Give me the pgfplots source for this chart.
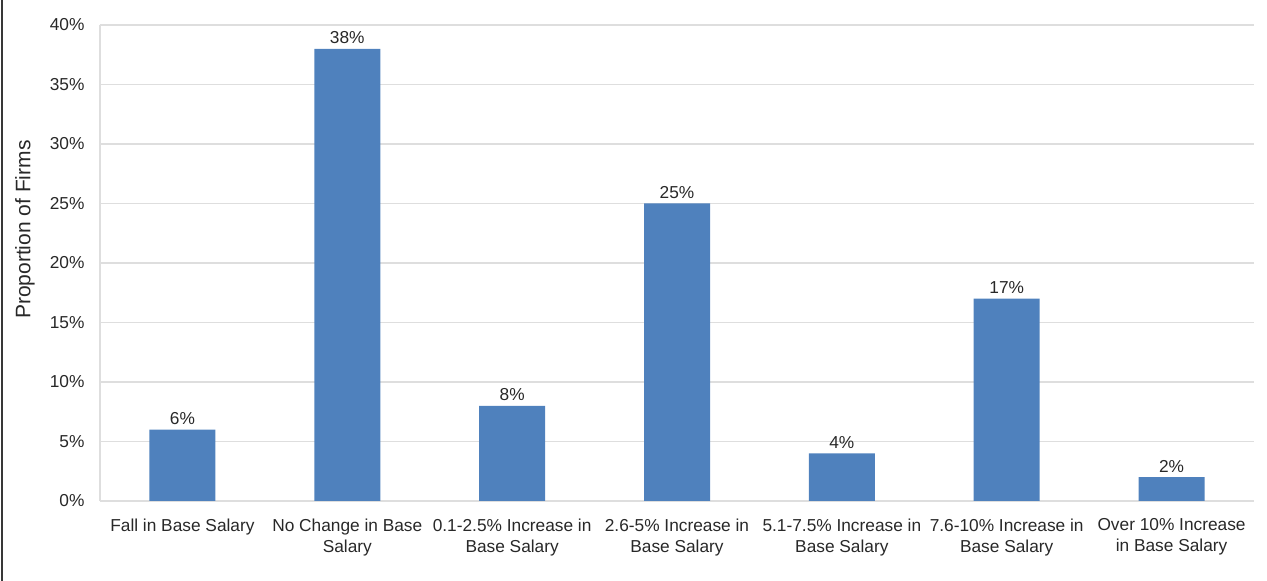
\documentclass[border=0pt]{standalone}
\usepackage{pgfplots}
\pgfplotsset{compat=1.18}
\usepackage{fontspec}
\setmainfont{Liberation Sans}

\definecolor{barblue}{RGB}{79,129,189}
\definecolor{gridgrey}{RGB}{222,222,222}
\definecolor{txt}{RGB}{40,40,40}

\begin{document}
\begin{tikzpicture}[x=1pt,y=1pt]
  \path[use as bounding box] (0,0) rectangle (1267,581);
  \draw[line width=2pt, color=black!78] (1.5,0) -- (1.5,581);
  \begin{axis}[
    at={(100pt,80pt)}, anchor=south west,
    scale only axis,
    width=1154pt, height=476pt,
    xmin=-0.5, xmax=6.5,
    ymin=0, ymax=40,
    ytick={0,5,...,40},
    yticklabels={0\%,5\%,10\%,15\%,20\%,25\%,30\%,35\%,40\%},
    xtick={0,...,6},
    xticklabels={
      Fall in Base Salary,
      No Change in Base\\Salary,
      0.1-2.5\% Increase in\\Base Salary,
      2.6-5\% Increase in\\Base Salary,
      5.1-7.5\% Increase in\\Base Salary,
      7.6-10\% Increase in\\Base Salary,
      Over 10\% Increase\\in Base Salary},
    xticklabel style={align=center, font=\fontsize{17.3}{21}\selectfont, color=txt, yshift=-14pt},
    yticklabel style={font=\fontsize{17.3}{20}\selectfont, color=txt, xshift=-12pt},
    major tick length=0pt,
    axis line style={draw=none},
    ymajorgrids,
    grid style={color=gridgrey, line width=1.4pt},
    ylabel={Proportion of Firms},
    ylabel style={font=\fontsize{21}{24}\selectfont, color=txt,
      at={(axis description cs:-0.065,0.57)}, anchor=center},
    /pgf/number format/assume math mode=true,
    ybar, bar width=66pt,
    nodes near coords={\pgfmathprintnumber{\pgfplotspointmeta}\%},
    nodes near coords style={font=\fontsize{17.3}{20}\selectfont, color=txt, yshift=1.5pt},
    clip=false,
  ]
    % faint left edge and baseline of the plot area
    \draw[color=gridgrey, line width=1.2pt] (rel axis cs:0,0) -- (rel axis cs:0,1);
    \draw[color=gridgrey, line width=1.6pt] (rel axis cs:0,0) -- (rel axis cs:1,0);
    \addplot[fill=barblue, draw=none] coordinates {
      (0,6) (1,38) (2,8) (3,25) (4,4) (5,17) (6,2)
    };
  \end{axis}
\end{tikzpicture}
\end{document}
